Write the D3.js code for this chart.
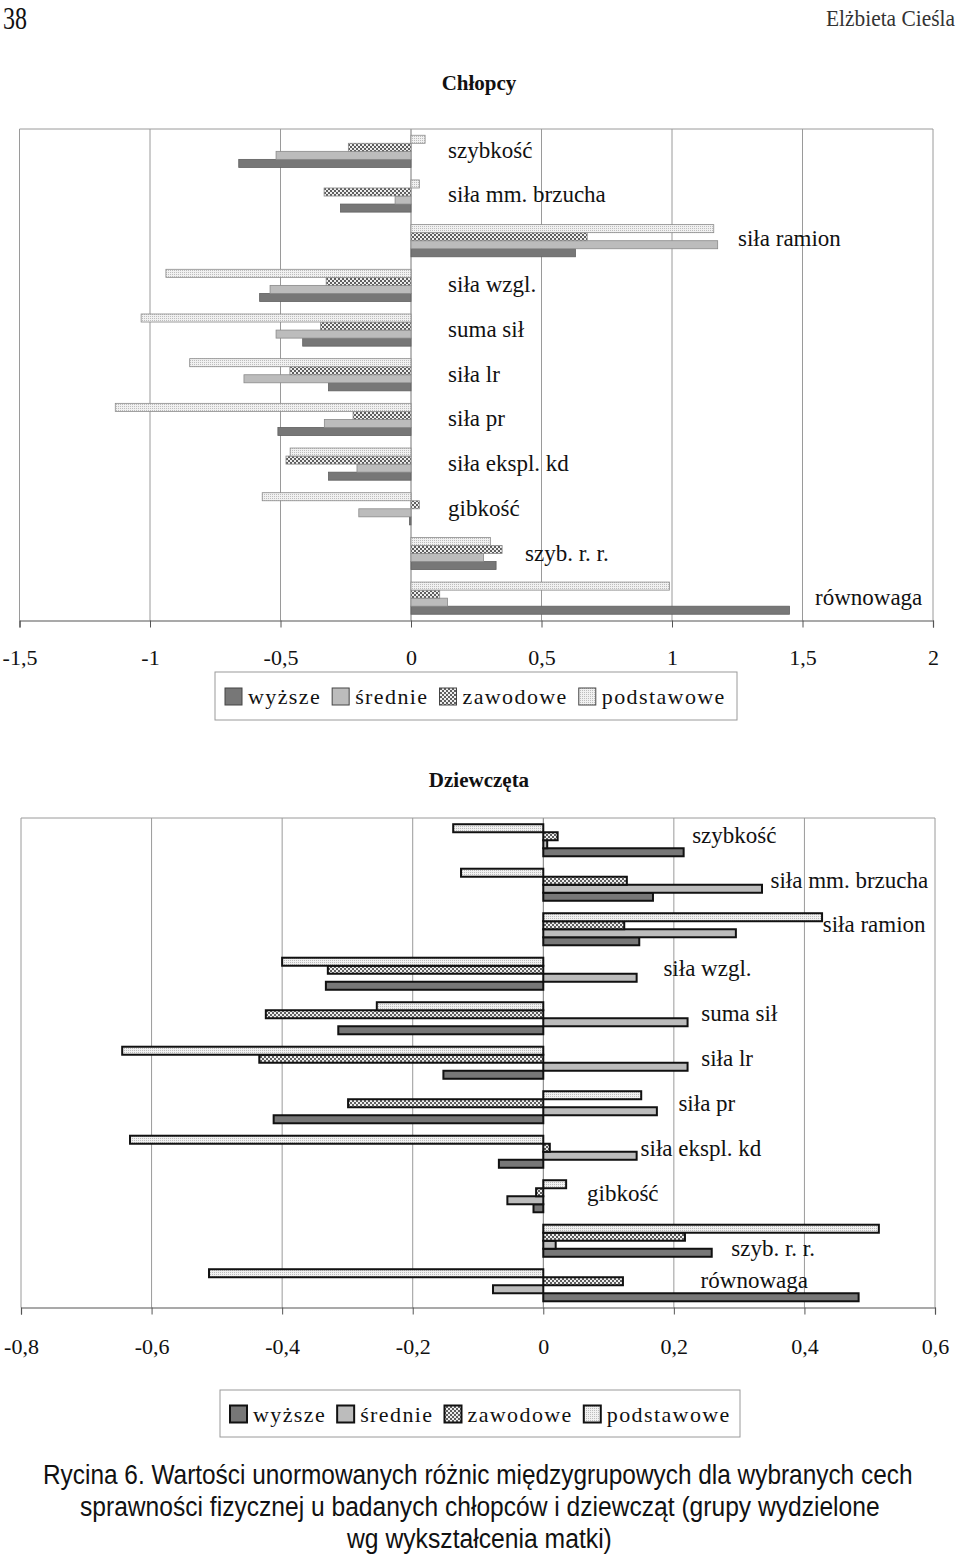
<!DOCTYPE html>
<html>
<head>
<meta charset="utf-8">
<script src="https://cdn.jsdelivr.net/npm/d3@7"></script>
<style>
    body {
        margin: 0;
        background: white;
    }
    svg text {
        font-family: "Liberation Serif", "Times New Roman", serif;
        fill: #111;
    }
</style>
</head>
<body>
<svg id="page" width="960" height="1559"></svg>

<script>
    // data
    const categories = ["szybkość", "siła mm. brzucha", "siła ramion", "siła wzgl.", "suma sił",
        "siła lr", "siła pr", "siła ekspl. kd", "gibkość", "szyb. r. r.", "równowaga"];
    const seriesNames = ["wyższe", "średnie", "zawodowe", "podstawowe"];

    const boysWyzsze = [-0.66, -0.27, 0.63, -0.58, -0.415, -0.316, -0.51, -0.316, -0.006, 0.326, 1.45];
    const boysSrednie = [-0.517, -0.061, 1.175, -0.54, -0.517, -0.64, -0.332, -0.207, -0.2, 0.278, 0.14];
    const boysZawodowe = [-0.24, -0.333, 0.675, -0.325, -0.347, -0.464, -0.222, -0.479, 0.032, 0.349, 0.11];
    const boysPodstawowe = [0.054, 0.032, 1.16, -0.939, -1.034, -0.848, -1.133, -0.463, -0.57, 0.304, 0.99];

    const girlsWyzsze = [0.215, 0.168, 0.147, -0.333, -0.314, -0.153, -0.413, -0.068, -0.015, 0.258, 0.483];
    const girlsSrednie = [0.006, 0.335, 0.295, 0.143, 0.221, 0.221, 0.174, 0.143, -0.055, 0.019, -0.077];
    const girlsZawodowe = [0.022, 0.128, 0.124, -0.33, -0.425, -0.435, -0.299, 0.01, -0.011, 0.217, 0.122];
    const girlsPodstawowe = [-0.138, -0.126, 0.427, -0.4, -0.255, -0.645, 0.15, -0.633, 0.035, 0.514, -0.512];

    const boysTicks = [-1.5, -1, -0.5, 0, 0.5, 1, 1.5, 2];
    const girlsTicks = [-0.8, -0.6, -0.4, -0.2, 0, 0.2, 0.4, 0.6];

    // where the category names sit (in value units), layout only
    const boysLabelAt = [0.142, 0.142, 1.253, 0.142, 0.142, 0.142, 0.142, 0.142, 0.142, 0.437, 1.548];
    const boysLabelDy = [-1, -2, -3, -1, -1, -1, -1, -1, -1, -1, -1];
    const girlsLabelAt = [0.228, 0.348, 0.428, 0.184, 0.242, 0.242, 0.207, 0.149, 0.067, 0.288, 0.241];
    const girlsLabelDy = [-5, -5, -5, -6, -5, -5, -4, -4, -3, 7, -5];

    const svg = d3.select("#page");
    const locale = d3.formatLocale({ decimal: ",", thousands: " ", grouping: [3], currency: ["", ""], minus: "-" });
    const fmt = locale.format("~g");

    // patterns
    function makePatterns() {
        let defs = svg.append("defs");
        let dots = defs.append("pattern")
            .attr("id", "patDots")
            .attr("width", 2).attr("height", 2)
            .attr("patternUnits", "userSpaceOnUse");
        dots.append("rect").attr("width", 2).attr("height", 2).attr("fill", "#f1f1f1");
        dots.append("rect").attr("width", 1).attr("height", 1).attr("fill", "#bdbdbd");

        let check = defs.append("pattern")
            .attr("id", "patCheck")
            .attr("width", 4).attr("height", 4)
            .attr("patternUnits", "userSpaceOnUse");
        check.append("rect").attr("width", 4).attr("height", 4).attr("fill", "#eeeeee");
        check.append("rect").attr("width", 2).attr("height", 2).attr("fill", "#5e5e5e");
        check.append("rect").attr("x", 2).attr("y", 2).attr("width", 2).attr("height", 2).attr("fill", "#5e5e5e");
    }
    makePatterns();

    const fills = {
        "wyższe": "#777777",
        "średnie": "#bcbcbc",
        "zawodowe": "url(#patCheck)",
        "podstawowe": "url(#patDots)"
    };

    // text squeezed to a given width
    function squeezedText(x, y, width, size, family, weight, str, color) {
        let t = svg.append("text")
            .attr("transform", `translate(${x}, ${y})`)
            .style("font-size", size + "px")
            .style("font-family", family)
            .style("font-weight", weight)
            .style("fill", color)
            .text(str);
        let natural = t.node().getComputedTextLength();
        t.attr("transform", `translate(${x}, ${y}) scale(${width / natural}, 1)`);
        return t;
    }

    // one chart
    function drawChart(config) {
        let { left, right, top, bottom, domain, ticks, series, labelAt, labelDy,
            barStroke, barStrokeWidth, tickPadding, title, titleY } = config;

        let xScale = d3.scaleLinear().domain(domain).range([left, right]);
        let yScale = d3.scaleBand()
            .domain(categories)
            .range([top, bottom])
            .paddingInner(0.28)
            .paddingOuter(0.14);
        // bars inside a group, top to bottom
        let order = ["podstawowe", "zawodowe", "średnie", "wyższe"];
        let subScale = d3.scaleBand().domain(order).range([0, yScale.bandwidth()]);

        let g = svg.append("g");

        // title
        svg.append("text")
            .attr("x", 479).attr("y", titleY)
            .attr("text-anchor", "middle")
            .style("font-size", "21px")
            .style("font-weight", "bold")
            .text(title);

        // grid and frame
        g.selectAll(".grid")
            .data(ticks)
            .enter().append("line")
            .attr("x1", d => xScale(d)).attr("x2", d => xScale(d))
            .attr("y1", top).attr("y2", bottom)
            .attr("stroke", d => d === 0 ? "#777" : "#9a9a9a")
            .attr("stroke-width", 1);
        g.append("line")
            .attr("x1", left).attr("x2", right)
            .attr("y1", top).attr("y2", top)
            .attr("stroke", "#9a9a9a");

        // bars
        let rows = [];
        categories.forEach((c, i) => {
            seriesNames.forEach(s => {
                rows.push({ cat: c, series: s, value: series[s][i] });
            });
        });
        g.selectAll(".bar")
            .data(rows)
            .enter().append("rect")
            .attr("x", d => xScale(Math.min(0, d.value)))
            .attr("y", d => yScale(d.cat) + subScale(d.series))
            .attr("width", d => Math.abs(xScale(d.value) - xScale(0)))
            .attr("height", subScale.bandwidth())
            .attr("fill", d => fills[d.series])
            .attr("stroke", d => barStroke === "thin" ? (d.series === "wyższe" ? "#606060" : "#8a8a8a") : barStroke)
            .attr("stroke-width", barStrokeWidth);

        // axis
        let axis = d3.axisBottom(xScale)
            .tickValues(ticks)
            .tickSize(7)
            .tickPadding(tickPadding)
            .tickFormat(fmt);
        let ax = svg.append("g")
            .attr("transform", `translate(0, ${bottom})`)
            .call(axis);
        ax.select(".domain").attr("stroke", "#555").attr("stroke-width", 1.2);
        ax.selectAll(".tick line").attr("stroke", "#555");
        ax.selectAll(".tick text")
            .style("font-family", '"Liberation Serif", serif')
            .style("font-size", "22px")
            .attr("fill", "#111");

        // category names
        g.selectAll(".catLabel")
            .data(categories)
            .enter().append("text")
            .attr("x", (d, i) => xScale(labelAt[i]))
            .attr("y", (d, i) => yScale(d) + yScale.bandwidth() / 2 + labelDy[i])
            .attr("dy", "0.35em")
            .style("font-size", "23px")
            .text(d => d);
    }

    function drawLegend(config) {
        let { x, y, width, height, squareStroke, squareStrokeWidth } = config;
        let g = svg.append("g");
        g.append("rect")
            .attr("x", x).attr("y", y)
            .attr("width", width).attr("height", height)
            .attr("fill", "white")
            .attr("stroke", "#9a9a9a");

        let cx = x + 10;
        seriesNames.forEach(s => {
            g.append("rect")
                .attr("x", cx).attr("y", y + height / 2 - 8)
                .attr("width", 17).attr("height", 17)
                .attr("fill", fills[s])
                .attr("stroke", squareStroke)
                .attr("stroke-width", squareStrokeWidth);
            let t = g.append("text")
                .attr("x", cx + 23).attr("y", y + height / 2 + 8)
                .style("font-size", "22px")
                .style("letter-spacing", "1.4px")
                .text(s);
            cx += 23 + t.node().getComputedTextLength() + 11;
        });
    }

    // header
    squeezedText(3, 29, 24, 31, '"Liberation Serif", serif', "normal", "38", "#111");
    squeezedText(826, 26, 129, 23, '"Liberation Serif", serif', "normal", "Elżbieta Cieśla", "#333");

    drawChart({
        left: 19.5, right: 933, top: 129, bottom: 620.5,
        domain: [-1.5, 2], ticks: boysTicks,
        series: { "wyższe": boysWyzsze, "średnie": boysSrednie, "zawodowe": boysZawodowe, "podstawowe": boysPodstawowe },
        labelAt: boysLabelAt, labelDy: boysLabelDy,
        barStroke: "thin", barStrokeWidth: 0.8, tickPadding: 22,
        title: "Chłopcy", titleY: 90
    });
    drawLegend({ x: 215, y: 672, width: 522, height: 48, squareStroke: "#444", squareStrokeWidth: 1 });

    drawChart({
        left: 21, right: 935, top: 818, bottom: 1307.5,
        domain: [-0.8, 0.6], ticks: girlsTicks,
        series: { "wyższe": girlsWyzsze, "średnie": girlsSrednie, "zawodowe": girlsZawodowe, "podstawowe": girlsPodstawowe },
        labelAt: girlsLabelAt, labelDy: girlsLabelDy,
        barStroke: "#111", barStrokeWidth: 2, tickPadding: 24,
        title: "Dziewczęta", titleY: 787
    });
    drawLegend({ x: 220, y: 1390, width: 520, height: 47, squareStroke: "#111", squareStrokeWidth: 2 });

    // caption
    let captionLines = [
        { text: "Rycina 6. Wartości unormowanych różnic międzygrupowych dla wybranych cech", x: 43, w: 870, y: 1484 },
        { text: "sprawności fizycznej u badanych chłopców i dziewcząt (grupy wydzielone", x: 80, w: 800, y: 1516 },
        { text: "wg wykształcenia matki)", x: 347, w: 265, y: 1548 }
    ];
    captionLines.forEach(d => {
        squeezedText(d.x, d.y, d.w, 28, '"Liberation Sans", Arial, sans-serif', "normal", d.text, "#111");
    });
</script>
</body>
</html>
